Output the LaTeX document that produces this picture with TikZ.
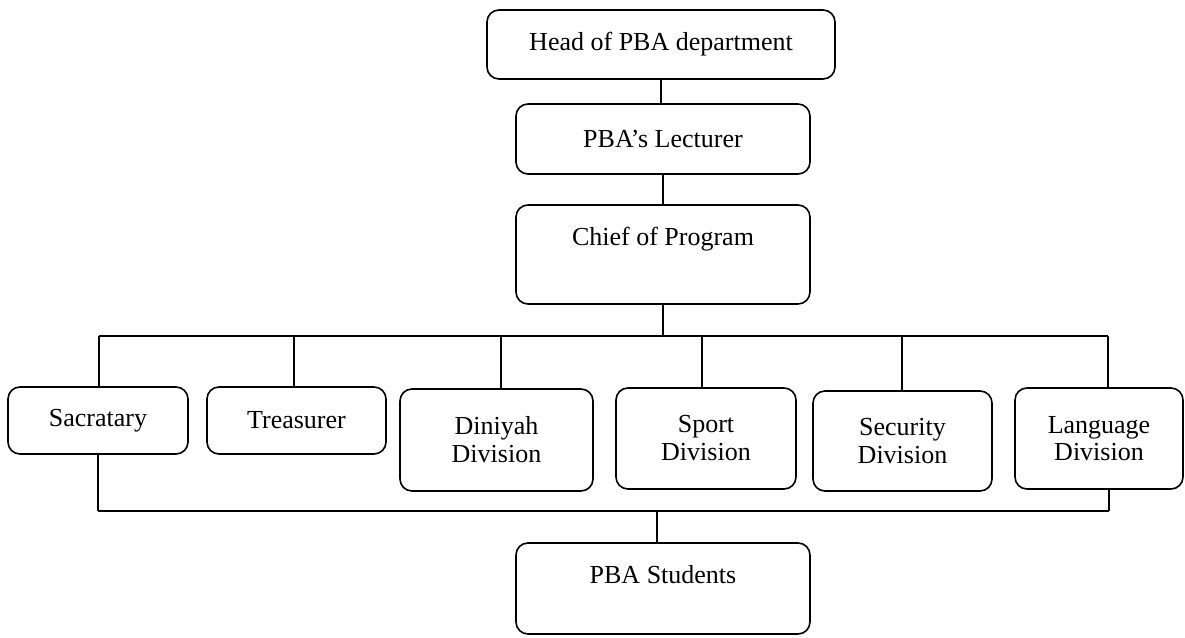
\documentclass[tikz,border=0pt]{standalone}
\usepackage{fontspec}
\setmainfont{Liberation Serif}
\begin{document}
\begin{tikzpicture}[x=1pt,y=-1pt,
  unit/.style={draw, line width=1.6pt, rounded corners=12pt, inner sep=0pt,
               font=\fontsize{26}{28}\selectfont},
  box/.style={unit, align=center},
  topbox/.style={unit, text height=40pt, text depth=#1},
  link/.style={line width=1.7pt},
  thinlink/.style={line width=1.1pt}]
\useasboundingbox (0,0) rectangle (1185,637);

% upper chain
\node[box, minimum width=348pt, minimum height=69pt] (head) at (661,44.5) {Head of PBA department};
\node[box, minimum width=294pt, minimum height=70pt] (lect) at (663,139) {PBA’s Lecturer};
\node[topbox=59pt, minimum width=294pt] (chief) at (663,254.5) {Chief of Program};

% divisions
\node[box, minimum width=180pt, minimum height=67pt] (sac) at (98,420.5) {Sacratary};
\node[box, minimum width=179pt, minimum height=67pt] (tre) at (296.5,420.5) {Treasurer};
\node[box, minimum width=193pt, minimum height=102pt] (din) at (496.5,440) {Diniyah\\Division};
\node[box, minimum width=180pt, minimum height=101pt] (spo) at (706,438.5) {Sport\\Division};
\node[box, minimum width=179pt, minimum height=100pt] (sec) at (902.5,441) {Security\\Division};
\node[box, minimum width=168pt, minimum height=101pt] (lan) at (1099,438.5) {Language\\[-1pt]Division};

% students
\node[topbox=51pt, minimum width=294pt] (stu) at (663,588.5) {PBA Students};

% upper bus and its drop points
\coordinate (busL) at (99,336);
\coordinate (busR) at (1108,336);
\coordinate (dtre) at (294,336);
\coordinate (ddin) at (501,336);
\coordinate (dspo) at (702,336);
\coordinate (dsec) at (902,336);
% lower bus
\coordinate (botL) at (98,511);
\coordinate (botR) at (1109,511);
\coordinate (stuJ) at (657,511);

% connectors
\draw[thinlink] (head.south) -- (head.south |- lect.north);
\draw[link] (lect.south) -- (chief.north);
\draw[link] (chief.south) -- (chief.south |- busL);
\draw[link] (busL) -- (busR);
\draw[link] (busL) -- (busL |- sac.north);
\draw[link] (dtre) -- (dtre |- tre.north);
\draw[link] (ddin) -- (ddin |- din.north);
\draw[link] (dspo) -- (dspo |- spo.north);
\draw[link] (dsec) -- (dsec |- sec.north);
\draw[link] (busR) -- (busR |- lan.north);

\draw[thinlink] (sac.south) -- (sac.south |- botL);
\draw[link] (botL) -- (botR);
\draw[thinlink] (botR) -- (botR |- lan.south);
\draw[thinlink] (stuJ) -- (stuJ |- stu.north);
\end{tikzpicture}
\end{document}
